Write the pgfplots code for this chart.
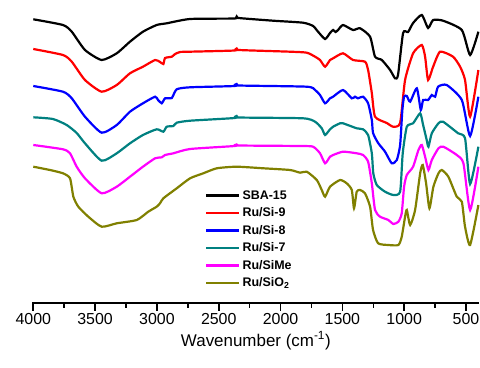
\documentclass[border=0pt]{standalone}
\usepackage{pgfplots}
\pgfplotsset{compat=1.18}
\usepackage{pgfplotstable}
\usepackage{fontspec}
\setmainfont{Liberation Sans}

\pgfplotstableread{
w p
4000 19.3
3760 25
3689 31.7
3582 50
3447 60
3325 53.3
3218 41.7
3113 31.7
3002 25
2921 23.3
2732 19
2370 18.5
2355 16.5
2340 18
2061 20.7
1818 22.7
1737 26
1697 31.7
1640 39
1600 33
1575 30
1555 32
1535 30
1495 25
1414 30
1357 28.3
1276 36.7
1236 56.7
1181 60
1114 70
1074 78.3
1050 75
1009 33
969 32
928 23
858 15
807 28
766 20
686 20.7
534 30
467 55
400 31.7
}\tblack

\pgfplotstableread{
w p
4000 49
3760 55
3689 61.7
3582 80
3447 91.7
3325 85
3218 73.3
3113 66.7
3015 60
2975 62
2948 64
2934 58
2880 56.7
2853 54
2813 52
2732 51.7
2370 50.5
2355 48.5
2340 50
1923 51.7
1788 52.7
1721 56.7
1681 60
1640 66.7
1600 60
1575 58.3
1495 53.3
1414 60
1317 61.7
1292 70
1262 93
1236 116.7
1141 123
1090 126.7
1033 123
993 80
928 53.3
858 45
831 56.7
807 80
766 66.7
710 51.7
605 56.7
548 66.7
508 80
467 116.7
400 70
}\tred

\pgfplotstableread{
w p
4000 86
3760 91.7
3689 98.3
3582 116.7
3447 132.7
3325 125
3218 111.7
3113 103.3
3015 96.7
2991 100
2961 103.3
2934 98.3
2880 98
2840 89.3
2732 87.3
2370 86
2355 84
2340 85.5
1788 86.7
1721 90
1681 95
1640 103.3
1600 98.3
1575 96.7
1495 90
1424 98.3
1398 96.7
1374 98.3
1333 96.7
1292 103.3
1262 120
1252 133
1211 143
1155 151.7
1101 163.3
1060 160
1033 145
1015 110
1001 96.7
979 96
952 101.7
898 88.3
866 110
847 100
807 100
777 95
750 96.7
726 86.7
656 85
534 100
467 136
400 96.7
}\tblue

\pgfplotstableread{
w p
4000 117.3
3841 119
3730 125
3649 133
3582 143.3
3447 160.7
3325 153.3
3218 143.3
3113 135
3002 129.3
2948 131.7
2921 126.7
2867 126
2840 122.7
2732 120.7
2370 118
2355 116
2340 117.5
1818 118.3
1721 121.7
1667 128.3
1640 135
1600 129.3
1575 126.7
1519 123.3
1495 123.3
1384 128.3
1333 129.3
1292 135
1262 153.3
1250 173.3
1222 185
1155 191.7
1088 195
1033 191.7
1012 153.3
979 126.7
928 123.3
871 113.3
847 125
818 140
804 146.7
777 133.3
723 123.3
686 121.7
564 133.3
508 138.3
467 184
400 146.7
}\tteal

\pgfplotstableread{
w p
4000 145
3760 149.3
3703 153.3
3649 166.7
3582 178.3
3447 193.3
3325 186.7
3218 176.7
3113 166.7
3015 158.3
2961 157.3
2934 155
2867 153.3
2732 149
2370 146
2355 144.5
2340 145.5
1842 146
1737 146.7
1681 153.3
1640 163.3
1600 156.7
1575 155
1495 151.7
1384 153.3
1333 155
1292 161.7
1262 183.3
1236 210
1195 216.7
1128 220
1088 224
1047 221.7
1020 213.3
1001 186.7
979 175
928 166.7
885 150
858 145
831 156.7
804 170
777 160
723 148.3
683 146.7
575 155
521 163.3
467 210
400 166.7
}\tmag

\pgfplotstableread{
w p
4000 166.7
3865 170
3760 173.3
3703 178.3
3676 196.7
3636 206.7
3555 216.7
3447 226.7
3325 223.3
3163 220
3070 211.7
3002 206.7
2975 203.3
2948 198.3
2840 188.3
2732 178.3
2625 173.3
2516 168.3
2355 166.7
2139 168.3
1923 170
1842 172.7
1788 171.7
1707 180
1667 190
1640 196.7
1600 186.7
1519 180
1465 183.3
1424 190
1406 208.3
1384 191.7
1357 190
1317 193.3
1276 206.7
1252 230
1211 243.3
1128 245
1047 245
1020 236.7
993 216.7
979 210
952 225
912 210
871 173.3
850 165
823 183.3
796 208.3
764 186.7
723 173.3
696 170
643 176.7
575 196.7
534 201.7
508 226.7
467 245
400 205
}\tolive

\definecolor{cteal}{RGB}{0,128,128}
\definecolor{colive}{RGB}{128,128,0}
\definecolor{cmag}{RGB}{255,0,255}
\definecolor{cred}{RGB}{255,0,0}
\definecolor{cblue}{RGB}{0,0,255}

\begin{document}
\begin{tikzpicture}
\useasboundingbox (-33.3bp,-65bp) rectangle (446.7bp,303bp);
\begin{axis}[
  at={(0,0)}, anchor=south west,
  width=445.1bp, height=303bp, scale only axis,
  x dir=reverse, xmin=400, xmax=4000, ymin=-303, ymax=0,
  clip=false,
  axis line style={draw=none},
  ytick=\empty,
  xtick pos=bottom,
  xtick={4000,3500,...,500},
  xtick align=outside,
  major tick length=7bp,
  ticklabel style={font=\fontsize{16}{18}\selectfont},
  /pgf/number format/assume math mode=true,
  /pgf/number format/1000 sep={},
  xlabel={Wavenumber (cm\textsuperscript{-1})},
  xlabel style={font=\fontsize{17}{19}\selectfont},
  legend style={at={(rel axis cs:0.378,0.385)}, anchor=north west, draw=none, fill=none,
    font=\bfseries\fontsize{12.5}{14}\selectfont, row sep=3bp},
  legend cell align=left,
  legend image code/.code={\draw[#1, line width=2.8bp] (0bp,0bp) -- (33bp,0bp);},
  every axis plot/.append style={line width=2.2bp, smooth, tension=0.35},
  extra description/.code={
    \draw[line width=1.8bp, line cap=rect] (axis cs:4000,-303) -- (axis cs:400,-303);
    \foreach \tk in {4000,3500,3000,2500,2000,1500,1000,500}
      \draw[line width=1.6bp] (axis cs:\tk,-303) -- (axis cs:\tk,-310.5);
    \foreach \tk in {3750,3250,2750,2250,1750,1250,750}
      \draw[line width=1.6bp] (axis cs:\tk,-303) -- (axis cs:\tk,-307.5);
  },
]
\addplot[black] table[x=w, y expr=-\thisrow{p}] {\tblack};
\addlegendentry{SBA-15}
\addplot[cred] table[x=w, y expr=-\thisrow{p}] {\tred};
\addlegendentry{Ru/Si-9}
\addplot[cblue] table[x=w, y expr=-\thisrow{p}] {\tblue};
\addlegendentry{Ru/Si-8}
\addplot[cteal] table[x=w, y expr=-\thisrow{p}] {\tteal};
\addlegendentry{Ru/Si-7}
\addplot[cmag] table[x=w, y expr=-\thisrow{p}] {\tmag};
\addlegendentry{Ru/SiMe}
\addplot[colive] table[x=w, y expr=-\thisrow{p}] {\tolive};
\addlegendentry{Ru/SiO\textsubscript{2}}
\end{axis}
\end{tikzpicture}
\end{document}
